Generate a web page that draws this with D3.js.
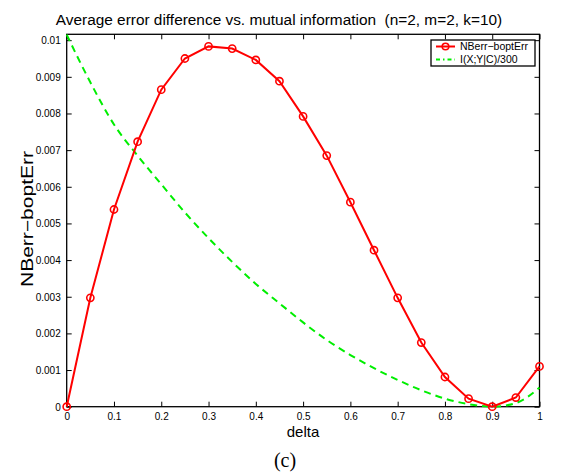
<!DOCTYPE html>
<html><head><meta charset="utf-8">
<script src="https://d3js.org/d3.v7.min.js"></script>
<style>body{margin:0;background:#fff}svg{display:block}</style>
</head><body>
<script>
const delta = [0,0.05,0.1,0.15,0.2,0.25,0.3,0.35,0.4,0.45,0.5,0.55,0.6,0.65,0.7,0.75,0.8,0.85,0.9,0.95,1.0];
const errDiff = [0,0.00297,0.00538,0.00723,0.00865,0.00950,0.00983,0.00977,0.00946,0.00888,0.00792,0.00685,0.00558,0.00427,0.00297,0.00175,0.00081,0.00022,0.0,0.00025,0.0011];
const mutInfo = [0.01015,0.00885,0.0077,0.00685,0.00607,0.0053,0.0046,0.00395,0.00335,0.00282,0.0023,0.00182,0.00141,0.00105,0.00073,0.00045,0.00022,0.00007,0.0,0.0001,0.00052];
const xTicks = [0,0.1,0.2,0.3,0.4,0.5,0.6,0.7,0.8,0.9,1];
const yTicks = [0,0.001,0.002,0.003,0.004,0.005,0.006,0.007,0.008,0.009,0.01];
const seriesNames = ["NBerr\u2212boptErr","I(X;Y|C)/300"];
const title = "Average error difference vs. mutual information\u00a0 (n=2, m=2, k=10)";

const W=574,H=472;
const L=66.7,R=539.5,T=34.3,B=406.7;
const svg=d3.select("body").append("svg").attr("width",W).attr("height",H);
const x=d3.scaleLinear().domain([0,1]).range([L,R]);
const y=d3.scaleLinear().domain([0,0.01016]).range([B,T]);
const font="Liberation Sans, Arial, Helvetica, sans-serif";

// title
svg.append("text").attr("x",279).attr("y",25).attr("text-anchor","middle")
  .attr("font-family",font).attr("font-size",15.4).text(title);

svg.append("clipPath").attr("id","c").append("rect")
  .attr("x",L-6).attr("y",T-6).attr("width",R-L+12).attr("height",B-T+12);

// axes
const tl=5;
const gx=svg.append("g").attr("transform",`translate(0,${B})`)
  .call(d3.axisBottom(x).tickValues(xTicks).tickSize(-tl).tickPadding(6).tickFormat(d=>d3.format("")(d)));
const gxt=svg.append("g").attr("transform",`translate(0,${T})`)
  .call(d3.axisTop(x).tickValues(xTicks).tickSize(-tl).tickFormat(""));
const gy=svg.append("g").attr("transform",`translate(${L},0)`)
  .call(d3.axisLeft(y).tickValues(yTicks).tickSize(-tl).tickPadding(6).tickFormat(d=>d3.format("")(+d.toFixed(3))));
const gyr=svg.append("g").attr("transform",`translate(${R},0)`)
  .call(d3.axisRight(y).tickValues(yTicks).tickSize(-tl).tickFormat(""));
[gx,gxt,gy,gyr].forEach(g=>{
  g.select(".domain").remove();
  g.selectAll("line").attr("stroke","#000").attr("stroke-width",1);
  g.selectAll("text").attr("font-family",font).attr("font-size",10).attr("fill","#000");
});
gy.selectAll("text").attr("dy","0.35em");

// box
svg.append("rect").attr("x",L).attr("y",T).attr("width",R-L).attr("height",B-T)
  .attr("fill","none").attr("stroke","#000").attr("stroke-width",1.3);

const line=d3.line().x((d,i)=>x(delta[i])).y(d=>y(d));
const lineSmooth=d3.line().x((d,i)=>x(delta[i])).y(d=>y(d)).curve(d3.curveMonotoneX);

svg.append("path").datum(mutInfo).attr("d",lineSmooth).attr("fill","none")
  .attr("stroke","#00ee00").attr("stroke-width",2).attr("stroke-dasharray","7,5")
  .attr("clip-path","url(#c)");

svg.append("path").datum(errDiff).attr("d",line).attr("fill","none")
  .attr("stroke","#ff0000").attr("stroke-width",2);
svg.selectAll("circle.m").data(errDiff).enter().append("circle").attr("class","m")
  .attr("cx",(d,i)=>x(delta[i])).attr("cy",d=>y(d)).attr("r",3.6)
  .attr("fill","none").attr("stroke","#ff0000").attr("stroke-width",1.6);

// axis labels
svg.append("text").attr("x",303).attr("y",437).attr("text-anchor","middle")
  .attr("font-family",font).attr("font-size",15).text("delta");
svg.append("text").attr("transform","translate(33,219) rotate(-90)").attr("text-anchor","middle")
  .attr("font-family",font).attr("font-size",16).attr("textLength",136)
  .attr("lengthAdjust","spacingAndGlyphs").text("NBerr\u2212boptErr");
svg.append("text").attr("x",285).attr("y",467).attr("text-anchor","middle")
  .attr("font-family","Liberation Serif, Times New Roman, serif").attr("font-size",20).text("(c)");

// legend
const lg=svg.append("g");
lg.append("rect").attr("x",431).attr("y",40).attr("width",104).attr("height",26)
  .attr("fill","#fff").attr("stroke","#000").attr("stroke-width",1.3);
const ly=[46.5,59.5];
lg.append("line").attr("x1",436).attr("x2",455).attr("y1",ly[0]).attr("y2",ly[0])
  .attr("stroke","#ff0000").attr("stroke-width",2);
lg.append("circle").attr("cx",445.5).attr("cy",ly[0]).attr("r",3.3).attr("fill","none")
  .attr("stroke","#ff0000").attr("stroke-width",1.6);
lg.append("line").attr("x1",436).attr("x2",455).attr("y1",ly[1]).attr("y2",ly[1])
  .attr("stroke","#00ee00").attr("stroke-width",2).attr("stroke-dasharray","4,3,1.5,3");
seriesNames.forEach((n,i)=>{
  lg.append("text").attr("x",460).attr("y",ly[i]+3.8).attr("font-family",font)
    .attr("font-size",10.5).text(n);
});
</script>
</body></html>
